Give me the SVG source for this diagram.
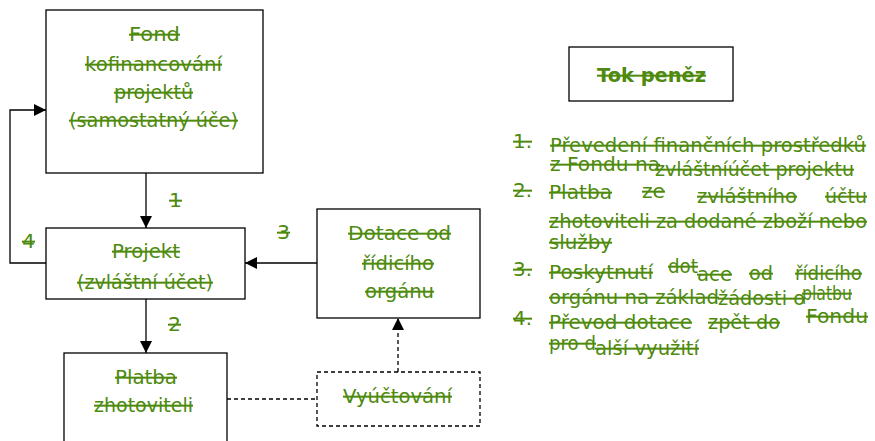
<svg xmlns="http://www.w3.org/2000/svg" width="875" height="441" viewBox="0 0 875 441">
<style>
.box{fill:#fff;stroke:#000;stroke-width:1.3}
.dbox{fill:#fff;stroke:#000;stroke-width:1.3;stroke-dasharray:4 3}
.t{font-family:"DejaVu Sans","Liberation Sans",sans-serif;font-size:20px;fill:#4e8a0e;text-decoration:line-through}
.ln{fill:none;stroke:#000;stroke-width:1.3}
.dl{fill:none;stroke:#000;stroke-width:1.3;stroke-dasharray:4 3}
</style>
<defs>
<marker id="ah" viewBox="0 0 10 10" refX="10" refY="5" markerWidth="12" markerHeight="12" markerUnits="userSpaceOnUse" orient="auto">
<path d="M0,0 L10,5 L0,10 z" fill="#000"/>
</marker>
</defs>
<g id="connectors">
<path class="ln" d="M146,173 V228" marker-end="url(#ah)"/>
<path class="ln" d="M146,299 V353" marker-end="url(#ah)"/>
<path class="ln" d="M317,263 H245" marker-end="url(#ah)"/>
<path class="ln" d="M46,263 H10 V110 H46" marker-end="url(#ah)"/>
<path class="dl" d="M227,399 H317"/>
<path class="dl" d="M398,372 V318" marker-end="url(#ah)"/>
<text class="t" x="169" y="207" textLength="13" lengthAdjust="spacingAndGlyphs">1</text>
<text class="t" x="168" y="331" textLength="13" lengthAdjust="spacingAndGlyphs">2</text>
<text class="t" x="277" y="239" textLength="13" lengthAdjust="spacingAndGlyphs">3</text>
<text class="t" x="22" y="248" textLength="13" lengthAdjust="spacingAndGlyphs">4</text>
</g>
<g id="fond">
<rect class="box" x="46" y="10" width="217" height="163"/>
<text class="t" x="129" y="41" textLength="51" lengthAdjust="spacingAndGlyphs">Fond</text>
<text class="t" x="85" y="71" textLength="137" lengthAdjust="spacingAndGlyphs">kofinancování</text>
<text class="t" x="114" y="99" textLength="79" lengthAdjust="spacingAndGlyphs">projektů</text>
<text class="t" x="69" y="127" textLength="169" lengthAdjust="spacingAndGlyphs">(samostatný úče)</text>
</g>
<g id="projekt">
<rect class="box" x="46" y="228" width="199" height="71"/>
<text class="t" x="112" y="258" textLength="68" lengthAdjust="spacingAndGlyphs">Projekt</text>
<text class="t" x="77" y="289" textLength="136" lengthAdjust="spacingAndGlyphs">(zvláštní účet)</text>
</g>
<g id="platba">
<rect class="box" x="64" y="353" width="163" height="100"/>
<text class="t" x="115" y="384" textLength="62" lengthAdjust="spacingAndGlyphs">Platba</text>
<text class="t" x="94" y="412" textLength="99" lengthAdjust="spacingAndGlyphs">zhotoviteli</text>
</g>
<g id="dotace">
<rect class="box" x="317" y="209" width="163" height="109"/>
<text class="t" x="348" y="240" textLength="103" lengthAdjust="spacingAndGlyphs">Dotace od</text>
<text class="t" x="362" y="270" textLength="72" lengthAdjust="spacingAndGlyphs">řídicího</text>
<text class="t" x="365" y="298" textLength="69" lengthAdjust="spacingAndGlyphs">orgánu</text>
</g>
<g id="vyuctovani">
<rect class="dbox" x="317" y="372" width="163" height="54"/>
<text class="t" x="343" y="403" textLength="109" lengthAdjust="spacingAndGlyphs">Vyúčtování</text>
</g>
<g id="tok">
<rect class="box" x="569" y="47" width="164" height="54"/>
<text class="t" x="597" y="82" font-weight="bold" textLength="109" lengthAdjust="spacingAndGlyphs">Tok peněz</text>
</g>
<g id="legend">
<text class="t" x="513" y="148" textLength="19" lengthAdjust="spacingAndGlyphs">1.</text>
<text class="t" x="550" y="152" textLength="316" lengthAdjust="spacingAndGlyphs">Převedení finančních prostředků</text>
<text class="t" x="550" y="171" textLength="110" lengthAdjust="spacingAndGlyphs">z Fondu na</text>
<text class="t" x="655" y="176" textLength="199" lengthAdjust="spacingAndGlyphs">zvláštníúčet projektu</text>
<text class="t" x="513" y="197" textLength="19" lengthAdjust="spacingAndGlyphs">2.</text>
<text class="t" x="549" y="199" textLength="63" lengthAdjust="spacingAndGlyphs">Platba</text>
<text class="t" x="642" y="198" textLength="23" lengthAdjust="spacingAndGlyphs">ze</text>
<text class="t" x="697" y="203" textLength="100" lengthAdjust="spacingAndGlyphs">zvláštního</text>
<text class="t" x="825" y="203" textLength="42" lengthAdjust="spacingAndGlyphs">účtu</text>
<text class="t" x="549" y="228" textLength="318" lengthAdjust="spacingAndGlyphs">zhotoviteli za dodané zboží nebo</text>
<text class="t" x="549" y="249" textLength="63" lengthAdjust="spacingAndGlyphs">služby</text>
<text class="t" x="513" y="276" textLength="19" lengthAdjust="spacingAndGlyphs">3.</text>
<text class="t" x="549" y="279" textLength="104" lengthAdjust="spacingAndGlyphs">Poskytnutí</text>
<text class="t" x="668" y="273" textLength="30" lengthAdjust="spacingAndGlyphs">dot</text>
<text class="t" x="697" y="281" textLength="35" lengthAdjust="spacingAndGlyphs">ace</text>
<text class="t" x="749" y="280" textLength="24" lengthAdjust="spacingAndGlyphs">od</text>
<text class="t" x="795" y="280" textLength="67" lengthAdjust="spacingAndGlyphs">řídicího</text>
<text class="t" x="549" y="304" textLength="170" lengthAdjust="spacingAndGlyphs">orgánu na základ</text>
<text class="t" x="718" y="305" textLength="87" lengthAdjust="spacingAndGlyphs">žádosti o</text>
<text class="t" x="802" y="300" textLength="50" lengthAdjust="spacingAndGlyphs">platbu</text>
<text class="t" x="513" y="325" textLength="19" lengthAdjust="spacingAndGlyphs">4.</text>
<text class="t" x="549" y="329" textLength="143" lengthAdjust="spacingAndGlyphs">Převod dotace</text>
<text class="t" x="708" y="329" textLength="72" lengthAdjust="spacingAndGlyphs">zpět do</text>
<text class="t" x="806" y="323" textLength="62" lengthAdjust="spacingAndGlyphs">Fondu</text>
<text class="t" x="549" y="350" textLength="47" lengthAdjust="spacingAndGlyphs">pro d</text>
<text class="t" x="595" y="355" textLength="104" lengthAdjust="spacingAndGlyphs">alší využití</text>
</g>
</svg>
